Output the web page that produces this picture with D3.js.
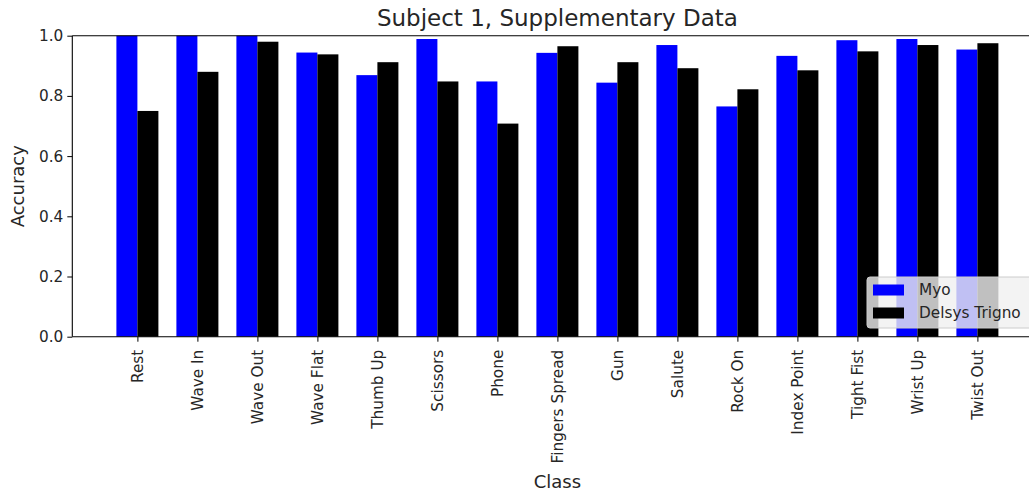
<!DOCTYPE html>
<html>
<head>
<meta charset="utf-8">
<script src="https://cdn.jsdelivr.net/npm/d3@7"></script>
<style>
  body { margin: 0; background: #fff; }
  svg { display: block; font-family: "DejaVu Sans", sans-serif; }
</style>
</head>
<body>
<svg id="chart" width="1029" height="493"></svg>
<script>
// Per-class accuracy for the two recording devices
const classes = ["Rest", "Wave In", "Wave Out", "Wave Flat", "Thumb Up", "Scissors", "Phone",
  "Fingers Spread", "Gun", "Salute", "Rock On", "Index Point", "Tight Fist", "Wrist Up", "Twist Out"];
const myo = [1.0, 1.0, 1.0, 0.944, 0.869, 0.989, 0.848, 0.943, 0.844, 0.969, 0.765, 0.933, 0.985, 0.989, 0.954];
const delsys = [0.750, 0.880, 0.980, 0.938, 0.912, 0.848, 0.708, 0.965, 0.912, 0.892, 0.822, 0.885, 0.948, 0.969, 0.975];
const seriesNames = ["Myo", "Delsys Trigno"];
const seriesColors = ["#0000ff", "#000000"];
const yTicks = [0.0, 0.2, 0.4, 0.6, 0.8, 1.0];

const svg = d3.select("#chart");
const barW = 0.35;

// x in category-index units, padded like a default bar plot
const x = d3.scaleLinear().domain([-1.085, 15.085]).range([72.3, 1042.5]);
const y = d3.scaleLinear().domain([0, 1]).range([336.7, 35.7]);

const g = svg.append("g");

// bars
const series = [myo, delsys];
series.forEach((vals, s) => {
  g.selectAll(null).data(vals).enter().append("rect")
    .attr("x", (d, i) => x(i + (s === 0 ? -barW : 0)))
    .attr("width", x(barW) - x(0))
    .attr("y", d => y(d))
    .attr("height", d => y(0) - y(d))
    .attr("fill", seriesColors[s]);
});

// spines
const spine = { stroke: "#000", "stroke-width": 1.1 };
g.append("line").attr("x1", x.range()[0]).attr("x2", x.range()[0]).attr("y1", y(0)).attr("y2", y(1)).attr("stroke", "#000").attr("stroke-width", 1.1);
g.append("line").attr("x1", x.range()[0]).attr("x2", x.range()[1]).attr("y1", y(0)).attr("y2", y(0)).attr("stroke", "#000").attr("stroke-width", 1.1);
g.append("line").attr("x1", x.range()[0]).attr("x2", x.range()[1]).attr("y1", y(1)).attr("y2", y(1)).attr("stroke", "#000").attr("stroke-width", 1.1);

// y axis
const yAxis = d3.axisLeft(y).tickValues(yTicks).tickFormat(d3.format(".1f")).tickSize(5).tickPadding(4);
const ya = g.append("g").attr("transform", `translate(${x.range()[0]},0)`).call(yAxis);
ya.select(".domain").remove();
ya.selectAll("text").attr("font-size", 15.3).attr("fill", "#262626").attr("font-family", "DejaVu Sans");

// x axis with rotated category labels
const xAxis = d3.axisBottom(x).tickValues(d3.range(classes.length)).tickFormat(i => classes[i]).tickSize(5).tickPadding(0);
const xa = g.append("g").attr("transform", `translate(0,${y(0)})`).call(xAxis);
xa.select(".domain").remove();
xa.selectAll("text")
  .attr("font-size", 15.3).attr("fill", "#262626").attr("font-family", "DejaVu Sans")
  .attr("text-anchor", "end")
  .attr("dy", null).attr("y", null)
  .attr("dominant-baseline", "central")
  .attr("transform", "translate(0,13) rotate(-90)");

// title and axis labels
svg.append("text").attr("x", (x.range()[0] + x.range()[1]) / 2).attr("y", 26)
  .attr("text-anchor", "middle").attr("font-size", 23).attr("fill", "#262626")
  .text("Subject 1, Supplementary Data");
svg.append("text").attr("transform", `translate(24,${(y(0) + y(1)) / 2}) rotate(-90)`)
  .attr("text-anchor", "middle").attr("font-size", 18).attr("fill", "#262626")
  .text("Accuracy");
svg.append("text").attr("x", (x.range()[0] + x.range()[1]) / 2).attr("y", 488)
  .attr("text-anchor", "middle").attr("font-size", 18).attr("fill", "#262626")
  .text("Class");

// legend
const leg = svg.append("g").attr("transform", "translate(867,277)");
leg.append("rect").attr("width", 170).attr("height", 51).attr("rx", 3)
  .attr("fill", "#f0f0f0").attr("fill-opacity", 0.8).attr("stroke", "#cccccc").attr("stroke-width", 1);
seriesNames.forEach((name, i) => {
  const row = leg.append("g").attr("transform", `translate(0,${13 + i * 23})`);
  row.append("rect").attr("x", 6).attr("y", -5.5).attr("width", 31).attr("height", 11).attr("fill", seriesColors[i]);
  row.append("text").attr("x", 52).attr("y", 0).attr("dominant-baseline", "central")
    .attr("font-size", 15.3).attr("fill", "#262626").text(name);
});
</script>
</body>
</html>
